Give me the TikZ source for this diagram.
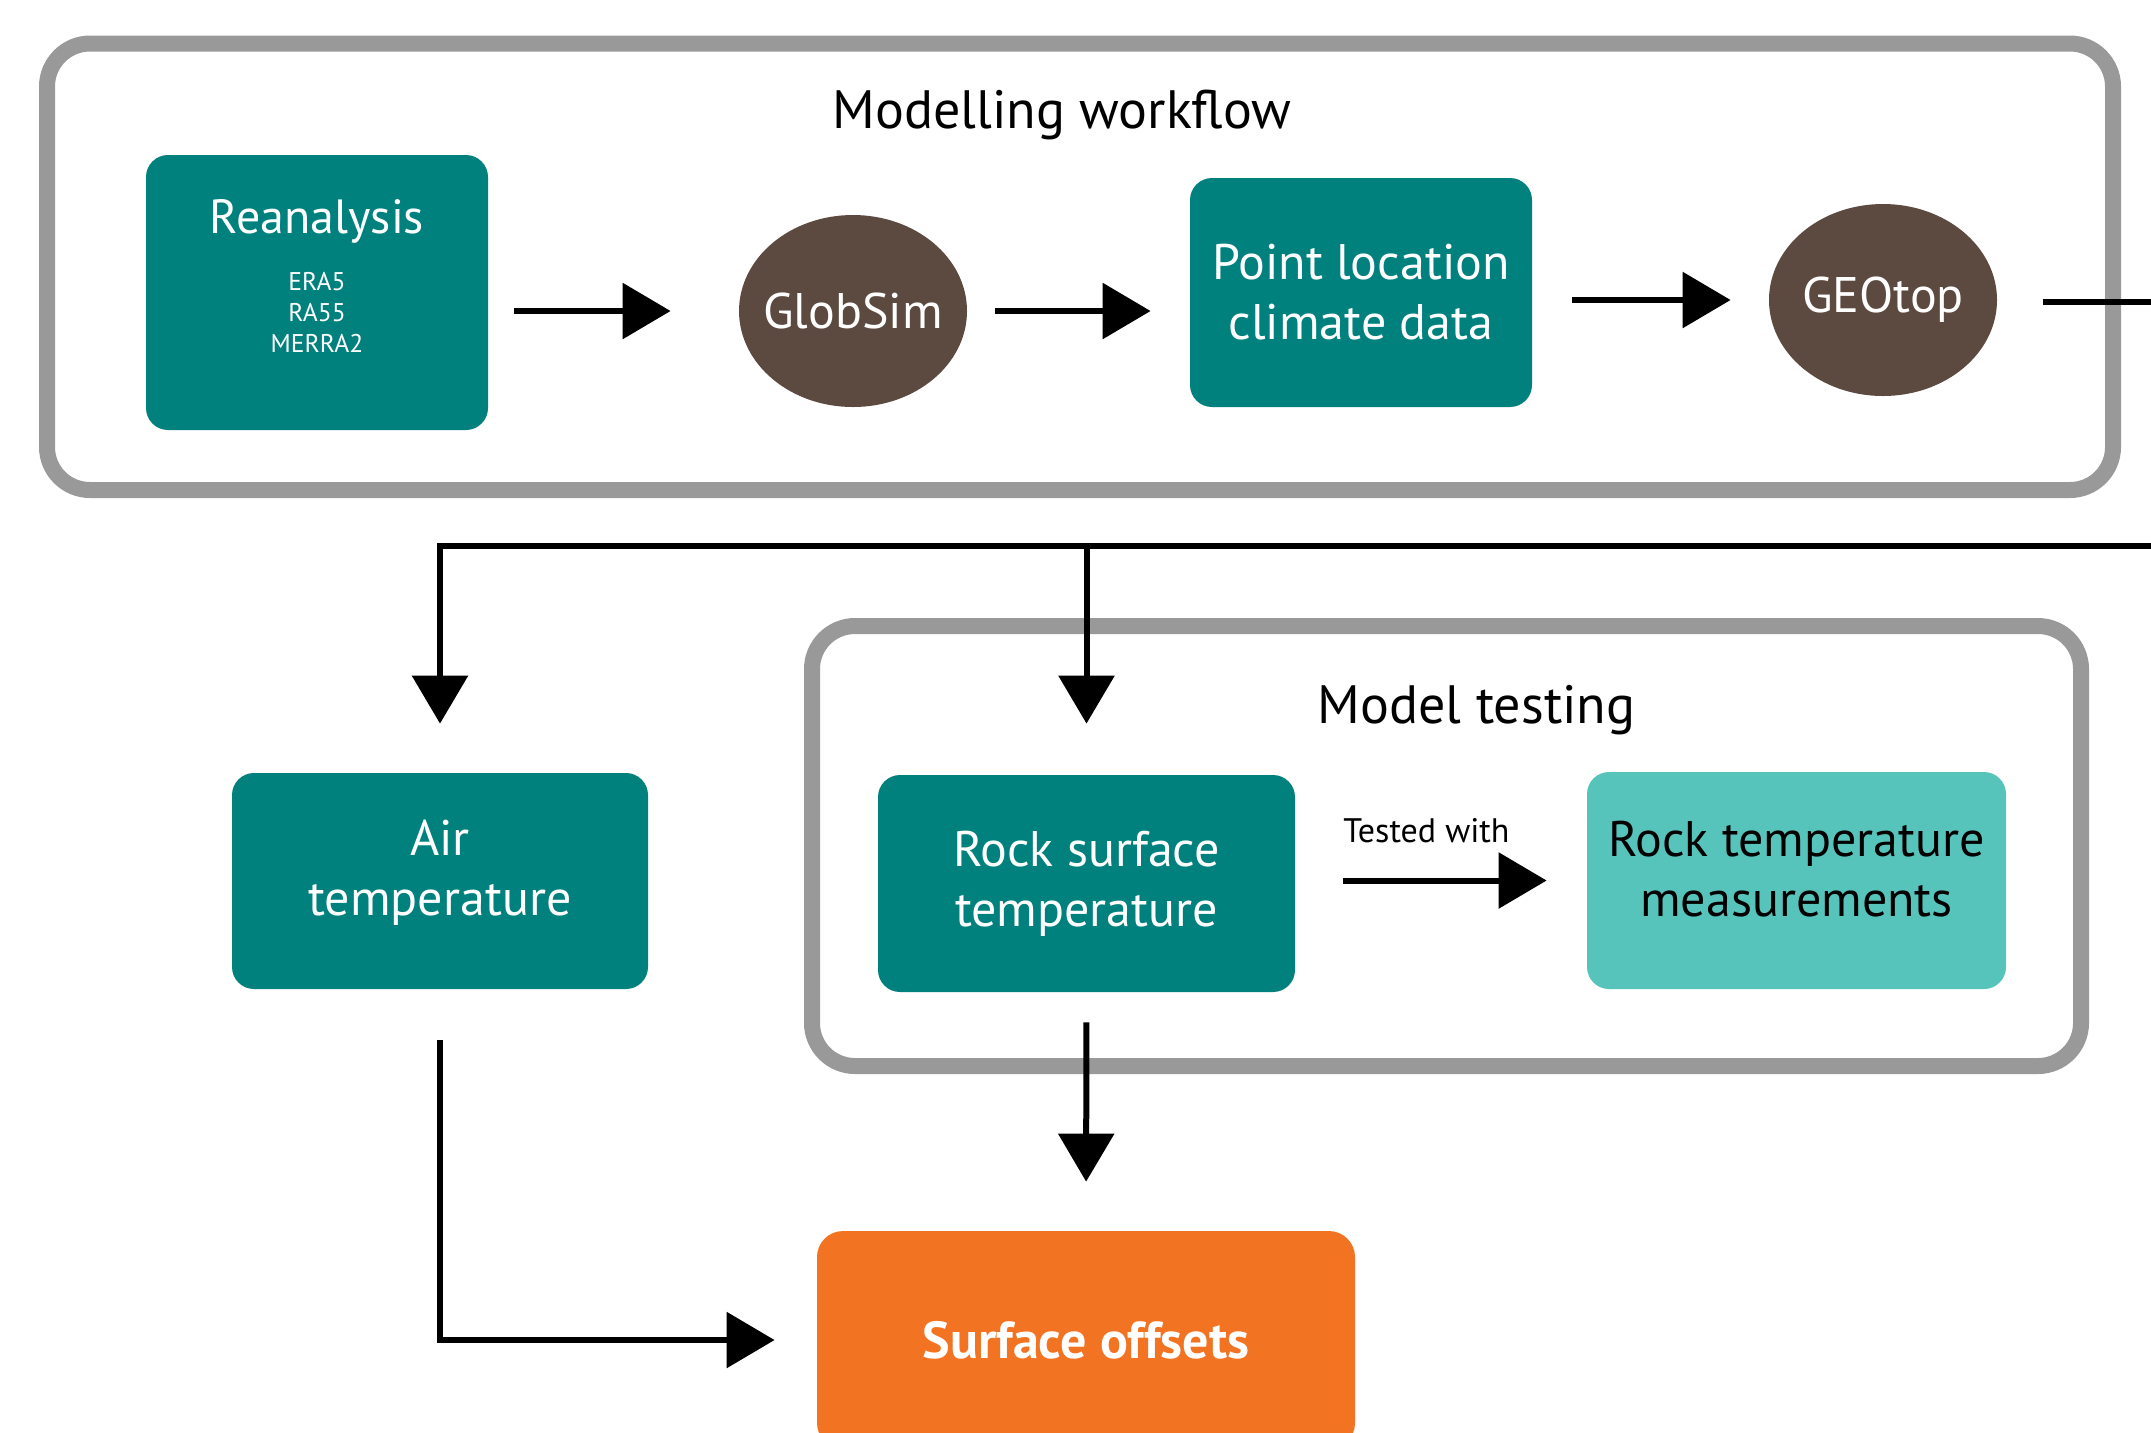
\documentclass[tikz,border=0pt]{standalone}
\usepackage{fontspec}
\setmainfont{PT Sans}
\usetikzlibrary{arrows.meta,shapes.geometric}

\definecolor{boxteal}{RGB}{0,129,126}
\definecolor{lightteal}{RGB}{87,196,188}
\definecolor{modelbrown}{RGB}{92,74,64}
\definecolor{offsetorange}{RGB}{242,115,33}
\definecolor{framegray}{RGB}{153,153,153}

\begin{document}
\begin{tikzpicture}[x=0.5pt,y=-0.5pt,
    box/.style={rectangle, rounded corners=11pt, fill=boxteal, text=white, align=center,
        inner sep=0pt, font=\fontsize{25pt}{30pt}\selectfont},
    model/.style={ellipse, fill=modelbrown, text=white, inner xsep=-12pt, inner ysep=0pt,
        minimum width=114pt, minimum height=96pt, font=\fontsize{25pt}{30pt}\selectfont},
    frame/.style={rectangle, draw=framegray, line width=8pt, rounded corners=21.5pt},
    title/.style={anchor=base, font=\fontsize{27pt}{34pt}\selectfont},
    freccia/.style={line width=3pt, -{Triangle[length=24pt,width=27.5pt]}}]
    \useasboundingbox (0,0) rectangle (2151,1432);
    \clip (0,0) rectangle (2151,1432); % taglia il foglio come l'originale

    % riquadri grigi
    \node[frame, minimum width=1033pt, minimum height=223.25pt] (workflow) at (1080,266.75) {};
    \node[frame, minimum width=634.5pt, minimum height=220pt] (testing) at (1446.5,846) {};
    \node[title] (workflowtitle) at (1062,128) {Modelling workflow};
    \node[title] (testingtitle) at (1476.5,723) {Model testing};

    % catena dei modelli
    \node[box, minimum width=171pt, minimum height=137.5pt] (reanalysis) at (317,292.5) {};
    \node[text=white, align=center, font=\fontsize{12.8pt}{15.5pt}\selectfont] (reanalysistext) at (317,276)
        {{\fontsize{24pt}{30pt}\selectfont Reanalysis}\\[13pt] ERA5\\RA55\\MERRA2};
    \node[model] (globsim) at (853,311) {GlobSim};
    \node[box, minimum width=171pt, minimum height=114.5pt] (point) at (1361,292.5) {Point location\\climate data};
    \node[model] (geotop) at (1883,300) {GEOtop};
    \coordinate (outtop) at (2151,302); % uscita a destra
    \coordinate (feed) at (2151,546); % ritorno da destra

    \draw[freccia, shorten <=13pt, shorten >=34pt] (reanalysis.east |- globsim) -- (globsim.west);
    \draw[freccia, shorten <=14pt, shorten >=19.5pt] (globsim.east) -- (point.west |- globsim);
    \draw[freccia, shorten <=20pt, shorten >=19pt] (point.east |- geotop) -- (geotop.west);
    \draw[line width=3pt, shorten <=23pt] (geotop.east |- outtop) -- (outtop);

    % uscite del modello
    \node[box, text depth=13pt, minimum width=208pt, minimum height=108pt] (air) at (440,881) {Air\\temperature};
    \node[box, minimum width=208.5pt, minimum height=108.5pt] (rocksurf) at (1086.5,883.5) {Rock surface\\temperature};
    \node[box, fill=lightteal, text=black, text depth=12pt, minimum width=209.5pt, minimum height=108.5pt] (rockmeas) at (1796.5,880.5)
        {Rock temperature\\measurements};
    \node[box, rounded corners=13pt, fill=offsetorange, minimum width=269pt, minimum height=109pt,
        font=\fontsize{26pt}{34pt}\selectfont\bfseries] (offsets) at (1086,1340) {Surface offsets};
    \node[anchor=base west, font=\fontsize{17pt}{20pt}\selectfont, inner sep=0pt] (tested) at (1343,842) {Tested with};

    \draw[freccia, shorten >=24.5pt] (feed) -| (air.north);
    \draw[freccia, shorten >=25.5pt] (rocksurf.north |- feed) -- (rocksurf.north);
    \draw[freccia, shorten <=24pt, shorten >=20pt] (rocksurf.east |- rockmeas) -- (rockmeas.west);
    \draw[freccia, shorten <=15pt, shorten >=24.5pt] (rocksurf.south) -- (offsets.north);
    \draw[freccia, shorten <=25.5pt, shorten >=21pt] (air.south) |- (offsets.west);
\end{tikzpicture}
\end{document}
